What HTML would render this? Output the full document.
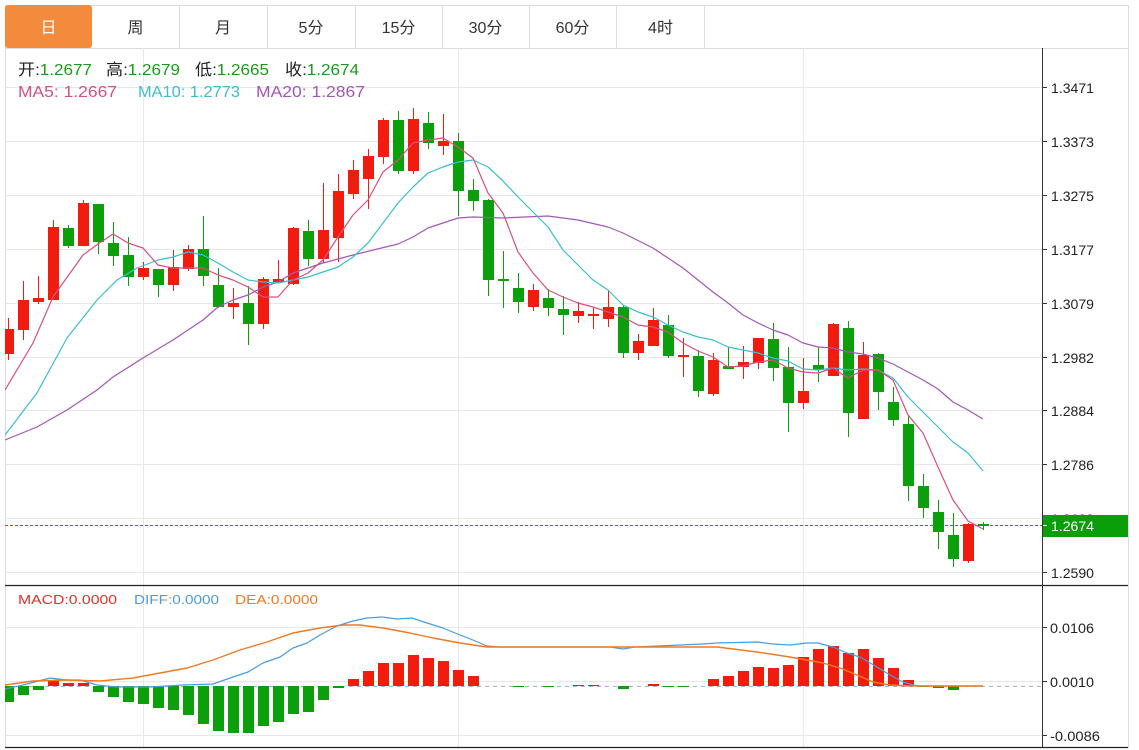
<!DOCTYPE html>
<html><head><meta charset="utf-8"><style>
html,body{margin:0;padding:0;background:#fff;}
svg{display:block;}
text{font-family:"Liberation Sans","Noto Sans CJK SC",sans-serif;}
</style></head><body>
<svg width="1139" height="750" viewBox="0 0 1139 750" xmlns="http://www.w3.org/2000/svg">
<defs>
<clipPath id="pc"><rect x="5" y="48" width="1037" height="537"/></clipPath>
<clipPath id="mc"><rect x="5" y="586" width="1037" height="162"/></clipPath>
</defs>
<rect width="1139" height="750" fill="#fff"/>
<!-- outer borders -->
<g stroke="#dcdcdc" stroke-width="1" fill="none">
<line x1="5" y1="5.5" x2="1128" y2="5.5"/>
<line x1="1128.5" y1="5" x2="1128.5" y2="748"/>
<line x1="5.5" y1="5" x2="5.5" y2="748"/>
<line x1="5" y1="48.5" x2="1128" y2="48.5"/>
<line x1="179.5" y1="5" x2="179.5" y2="48"/>
<line x1="267.5" y1="5" x2="267.5" y2="48"/>
<line x1="355.5" y1="5" x2="355.5" y2="48"/>
<line x1="442.5" y1="5" x2="442.5" y2="48"/>
<line x1="529.5" y1="5" x2="529.5" y2="48"/>
<line x1="616.5" y1="5" x2="616.5" y2="48"/>
<line x1="704.5" y1="5" x2="704.5" y2="48"/>
</g>
<rect x="5" y="5" width="87" height="43" rx="3" fill="#f28c3c"/>
<g font-size="16" text-anchor="middle" fill="#333">
<text x="48.5" y="33" fill="#fff">日</text>
<text x="135.5" y="33">周</text>
<text x="223" y="33">月</text>
<text x="311" y="33">5分</text>
<text x="398.5" y="33">15分</text>
<text x="485.5" y="33">30分</text>
<text x="572.5" y="33">60分</text>
<text x="660.5" y="33">4时</text>
</g>
<!-- grid -->
<g stroke="#e8e8e8" stroke-width="1">
<line x1="5" y1="87.5" x2="1042" y2="87.5"/>
<line x1="5" y1="141.5" x2="1042" y2="141.5"/>
<line x1="5" y1="195.5" x2="1042" y2="195.5"/>
<line x1="5" y1="249.5" x2="1042" y2="249.5"/>
<line x1="5" y1="303.5" x2="1042" y2="303.5"/>
<line x1="5" y1="357.5" x2="1042" y2="357.5"/>
<line x1="5" y1="410.5" x2="1042" y2="410.5"/>
<line x1="5" y1="464.5" x2="1042" y2="464.5"/>
<line x1="5" y1="518.5" x2="1042" y2="518.5"/>
<line x1="5" y1="572.5" x2="1042" y2="572.5"/>
<line x1="5" y1="627.5" x2="1042" y2="627.5"/>
<line x1="5" y1="681.5" x2="1042" y2="681.5"/>
<line x1="5" y1="735.5" x2="1042" y2="735.5"/>
<line x1="143.5" y1="48" x2="143.5" y2="748"/>
<line x1="458.5" y1="48" x2="458.5" y2="748"/>
<line x1="803.5" y1="48" x2="803.5" y2="748"/>
</g>
<!-- header text -->
<g font-size="16">
<text x="18" y="75" textLength="74" lengthAdjust="spacingAndGlyphs"><tspan fill="#222">开:</tspan><tspan fill="#1a9a1a">1.2677</tspan></text>
<text x="106" y="75" textLength="74" lengthAdjust="spacingAndGlyphs"><tspan fill="#222">高:</tspan><tspan fill="#1a9a1a">1.2679</tspan></text>
<text x="195" y="75" textLength="74" lengthAdjust="spacingAndGlyphs"><tspan fill="#222">低:</tspan><tspan fill="#1a9a1a">1.2665</tspan></text>
<text x="285" y="75" textLength="74" lengthAdjust="spacingAndGlyphs"><tspan fill="#222">收:</tspan><tspan fill="#1a9a1a">1.2674</tspan></text>
<text x="18" y="97" fill="#d6507f" textLength="99" lengthAdjust="spacingAndGlyphs">MA5: 1.2667</text>
<text x="138" y="97" fill="#3dbdd0" textLength="102" lengthAdjust="spacingAndGlyphs">MA10: 1.2773</text>
<text x="256" y="97" fill="#a257b5" textLength="109" lengthAdjust="spacingAndGlyphs">MA20: 1.2867</text>
</g>
<!-- current price dashed -->
<line x1="5" y1="525.5" x2="1042" y2="525.5" stroke="#1a9a1a" stroke-width="1" stroke-dasharray="3,2"/>
<!-- candles -->
<g clip-path="url(#pc)">
<g fill="#f21c0e">
<rect x="8" y="318" width="1" height="42"/><rect x="3" y="329" width="11" height="25"/>
<rect x="23" y="281" width="1" height="59"/><rect x="18" y="300" width="11" height="30"/>
<rect x="38" y="276" width="1" height="28"/><rect x="33" y="298" width="11" height="4"/>
<rect x="53" y="220" width="1" height="80"/><rect x="48" y="227" width="11" height="73"/>
<rect x="83" y="200" width="1" height="46"/><rect x="78" y="203" width="11" height="43"/>
<rect x="143" y="262" width="1" height="18"/><rect x="138" y="268" width="11" height="9"/>
<rect x="173" y="250" width="1" height="41"/><rect x="168" y="267" width="11" height="18"/>
<rect x="188" y="245" width="1" height="26"/><rect x="183" y="249" width="11" height="20"/>
<rect x="233" y="288" width="1" height="31"/><rect x="228" y="303" width="11" height="4"/>
<rect x="263" y="277" width="1" height="52"/><rect x="258" y="279" width="11" height="45"/>
<rect x="278" y="260" width="1" height="23"/><rect x="273" y="279" width="11" height="3"/>
<rect x="293" y="227" width="1" height="58"/><rect x="288" y="228" width="11" height="56"/>
<rect x="323" y="183" width="1" height="80"/><rect x="318" y="230" width="11" height="29"/>
<rect x="338" y="174" width="1" height="88"/><rect x="333" y="191" width="11" height="47"/>
<rect x="353" y="160" width="1" height="39"/><rect x="348" y="170" width="11" height="24"/>
<rect x="368" y="149" width="1" height="60"/><rect x="363" y="156" width="11" height="23"/>
<rect x="383" y="118" width="1" height="46"/><rect x="378" y="120" width="11" height="37"/>
<rect x="413" y="108" width="1" height="66"/><rect x="408" y="119" width="11" height="52"/>
<rect x="443" y="114" width="1" height="41"/><rect x="438" y="141" width="11" height="5"/>
<rect x="533" y="284" width="1" height="27"/><rect x="528" y="290" width="11" height="17"/>
<rect x="578" y="302" width="1" height="21"/><rect x="573" y="311" width="11" height="5"/>
<rect x="593" y="308" width="1" height="21"/><rect x="588" y="314" width="11" height="2"/>
<rect x="608" y="291" width="1" height="36"/><rect x="603" y="307" width="11" height="12"/>
<rect x="638" y="334" width="1" height="26"/><rect x="633" y="341" width="11" height="12"/>
<rect x="653" y="308" width="1" height="38"/><rect x="648" y="320" width="11" height="26"/>
<rect x="683" y="338" width="1" height="39"/><rect x="678" y="355" width="11" height="2"/>
<rect x="713" y="353" width="1" height="43"/><rect x="708" y="360" width="11" height="34"/>
<rect x="743" y="346" width="1" height="33"/><rect x="738" y="362" width="11" height="5"/>
<rect x="758" y="338" width="1" height="31"/><rect x="753" y="338" width="11" height="25"/>
<rect x="803" y="358" width="1" height="51"/><rect x="798" y="391" width="11" height="12"/>
<rect x="833" y="323" width="1" height="53"/><rect x="828" y="324" width="11" height="52"/>
<rect x="863" y="342" width="1" height="77"/><rect x="858" y="355" width="11" height="64"/>
<rect x="968" y="523" width="1" height="40"/><rect x="963" y="524" width="11" height="37"/>
</g>
<g fill="#0b9f0b">
<rect x="68" y="225" width="1" height="23"/><rect x="63" y="228" width="11" height="18"/>
<rect x="98" y="204" width="1" height="50"/><rect x="93" y="204" width="11" height="38"/>
<rect x="113" y="222" width="1" height="44"/><rect x="108" y="243" width="11" height="13"/>
<rect x="128" y="237" width="1" height="49"/><rect x="123" y="255" width="11" height="22"/>
<rect x="158" y="269" width="1" height="28"/><rect x="153" y="269" width="11" height="16"/>
<rect x="203" y="216" width="1" height="70"/><rect x="198" y="249" width="11" height="27"/>
<rect x="218" y="268" width="1" height="40"/><rect x="213" y="285" width="11" height="22"/>
<rect x="248" y="286" width="1" height="59"/><rect x="243" y="303" width="11" height="21"/>
<rect x="308" y="220" width="1" height="46"/><rect x="303" y="231" width="11" height="28"/>
<rect x="398" y="111" width="1" height="63"/><rect x="393" y="120" width="11" height="51"/>
<rect x="428" y="112" width="1" height="37"/><rect x="423" y="123" width="11" height="20"/>
<rect x="458" y="133" width="1" height="83"/><rect x="453" y="141" width="11" height="50"/>
<rect x="473" y="179" width="1" height="32"/><rect x="468" y="190" width="11" height="11"/>
<rect x="488" y="199" width="1" height="97"/><rect x="483" y="200" width="11" height="80"/>
<rect x="503" y="251" width="1" height="57"/><rect x="498" y="279" width="11" height="2"/>
<rect x="518" y="273" width="1" height="40"/><rect x="513" y="288" width="11" height="14"/>
<rect x="548" y="289" width="1" height="27"/><rect x="543" y="298" width="11" height="10"/>
<rect x="563" y="296" width="1" height="39"/><rect x="558" y="309" width="11" height="6"/>
<rect x="623" y="305" width="1" height="53"/><rect x="618" y="307" width="11" height="46"/>
<rect x="668" y="315" width="1" height="43"/><rect x="663" y="325" width="11" height="31"/>
<rect x="698" y="350" width="1" height="47"/><rect x="693" y="356" width="11" height="35"/>
<rect x="728" y="347" width="1" height="22"/><rect x="723" y="366" width="11" height="3"/>
<rect x="773" y="323" width="1" height="58"/><rect x="768" y="339" width="11" height="29"/>
<rect x="788" y="347" width="1" height="85"/><rect x="783" y="367" width="11" height="36"/>
<rect x="818" y="347" width="1" height="35"/><rect x="813" y="365" width="11" height="5"/>
<rect x="848" y="321" width="1" height="116"/><rect x="843" y="328" width="11" height="85"/>
<rect x="878" y="353" width="1" height="57"/><rect x="873" y="354" width="11" height="38"/>
<rect x="893" y="387" width="1" height="39"/><rect x="888" y="402" width="11" height="18"/>
<rect x="908" y="416" width="1" height="85"/><rect x="903" y="424" width="11" height="62"/>
<rect x="923" y="474" width="1" height="44"/><rect x="918" y="486" width="11" height="22"/>
<rect x="938" y="500" width="1" height="49"/><rect x="933" y="512" width="11" height="20"/>
<rect x="953" y="513" width="1" height="54"/><rect x="948" y="535" width="11" height="24"/>
<rect x="983" y="522" width="1" height="8"/><rect x="978" y="524" width="11" height="2"/>
</g>
<!-- MA lines -->
<g fill="none" stroke-width="1.2" stroke-linejoin="round">
<polyline stroke="#a257b5" points="5,440 37,427 67,410 97,390 113,377 143,358 173,340 188,330 203,320 218,307 233,300 248,295 263,287 278,282 293,273 323,263 353,255 398,244 413,237 428,228 443,223 458,218 473,217 503,218 548,216 578,220 608,227 623,233 653,248 668,258 683,268 698,280 713,292 728,303 743,315 758,323 773,330 788,335 803,343 818,347 833,348 848,352 863,354 878,358 893,364 908,372 923,380 938,389 953,402 968,410 983,419"/>
<polyline stroke="#3dbdd0" points="5,435 37,393 67,338 97,300 117,280 137,268 158,260 173,257 188,252 203,255 218,263 233,272 248,280 263,282 278,283 293,280 308,277 338,267 353,257 368,243 383,223 398,203 413,187 428,173 443,167 458,162 473,160 488,167 502,180 518,197 533,212 548,227 563,250 578,265 593,280 608,290 623,305 638,312 653,317 668,325 683,332 698,337 713,340 728,347 743,350 758,353 773,358 788,361 803,369 818,370 833,368 848,370 863,369 878,370 893,378 908,397 923,412 938,427 953,442 968,453 983,471"/>
<polyline stroke="#d6507f" points="5,390 33,343 53,297 68,276 83,255 98,244 113,234 128,243 143,248 158,265 173,268 188,268 203,268 218,275 233,280 248,287 263,297 278,297 293,280 308,273 323,260 338,237 353,215 368,200 383,172 398,160 413,143 428,140 443,138 458,147 473,158 488,193 503,213 518,252 533,273 548,290 563,297 578,303 593,307 608,312 623,317 638,325 653,327 668,332 683,343 698,351 713,357 728,367 743,366 758,362 773,360 788,368 803,372 818,373 833,368 848,378 863,370 878,370 893,380 908,415 923,433 938,467 953,500 968,521 983,529"/>
</g>
</g>
<!-- MACD -->
<line x1="5" y1="686.5" x2="1042" y2="686.5" stroke="#a8b4c0" stroke-width="1" stroke-dasharray="4,4"/>
<g clip-path="url(#mc)">
<g fill="#0b9f0b">
<rect x="3" y="686" width="11" height="16"/>
<rect x="18" y="686" width="11" height="9"/>
<rect x="33" y="686" width="11" height="4"/>
<rect x="93" y="686" width="11" height="6"/>
<rect x="108" y="686" width="11" height="11"/>
<rect x="123" y="686" width="11" height="16"/>
<rect x="138" y="686" width="11" height="18"/>
<rect x="153" y="686" width="11" height="22"/>
<rect x="168" y="686" width="11" height="24"/>
<rect x="183" y="686" width="11" height="29"/>
<rect x="198" y="686" width="11" height="38"/>
<rect x="213" y="686" width="11" height="45"/>
<rect x="228" y="686" width="11" height="47"/>
<rect x="243" y="686" width="11" height="47"/>
<rect x="258" y="686" width="11" height="40"/>
<rect x="273" y="686" width="11" height="36"/>
<rect x="288" y="686" width="11" height="28"/>
<rect x="303" y="686" width="11" height="26"/>
<rect x="318" y="686" width="11" height="14"/>
<rect x="333" y="686" width="11" height="2"/>
<rect x="513" y="686" width="11" height="1"/>
<rect x="543" y="686" width="11" height="1"/>
<rect x="618" y="686" width="11" height="3"/>
<rect x="663" y="686" width="11" height="1"/>
<rect x="678" y="686" width="11" height="1"/>
<rect x="918" y="686" width="11" height="1"/>
<rect x="933" y="686" width="11" height="2"/>
<rect x="948" y="686" width="11" height="4"/>
</g>
<g fill="#f21c0e">
<rect x="48" y="681" width="11" height="5"/>
<rect x="63" y="683" width="11" height="3"/>
<rect x="78" y="683" width="11" height="3"/>
<rect x="348" y="679" width="11" height="7"/>
<rect x="363" y="671" width="11" height="15"/>
<rect x="378" y="663" width="11" height="23"/>
<rect x="393" y="663" width="11" height="23"/>
<rect x="408" y="655" width="11" height="31"/>
<rect x="423" y="658" width="11" height="28"/>
<rect x="438" y="661" width="11" height="25"/>
<rect x="453" y="670" width="11" height="16"/>
<rect x="468" y="676" width="11" height="10"/>
<rect x="573" y="685" width="11" height="1"/>
<rect x="588" y="685" width="11" height="1"/>
<rect x="648" y="684" width="11" height="2"/>
<rect x="708" y="679" width="11" height="7"/>
<rect x="723" y="676" width="11" height="10"/>
<rect x="738" y="671" width="11" height="15"/>
<rect x="753" y="667" width="11" height="19"/>
<rect x="768" y="668" width="11" height="18"/>
<rect x="783" y="665" width="11" height="21"/>
<rect x="798" y="657" width="11" height="29"/>
<rect x="813" y="649" width="11" height="37"/>
<rect x="828" y="646" width="11" height="40"/>
<rect x="843" y="653" width="11" height="33"/>
<rect x="858" y="649" width="11" height="37"/>
<rect x="873" y="658" width="11" height="28"/>
<rect x="888" y="668" width="11" height="18"/>
<rect x="903" y="680" width="11" height="6"/>
</g>
<g fill="none" stroke-width="1.2" stroke-linejoin="round">
<polyline stroke="#4a9de0" points="5,689 23,685 50,678 67,680 80,680 97,685 117,687 150,687 183,685 213,684 233,677 248,672 263,663 280,657 293,648 307,643 320,635 337,626 353,621 367,618 382,617 397,619 412,618 427,623 443,628 460,635 473,640 487,646 500,647 610,647 623,649 635,647 703,644 717,643 757,642 773,644 790,645 807,643 818,643 833,647 847,653 860,657 877,667 890,675 903,682 917,686 983,686"/>
<polyline stroke="#f07a22" stroke-width="1.4" points="5,685 33,681 67,680 100,681 133,678 160,673 187,668 213,660 240,650 267,642 293,633 320,628 343,625 360,625 383,628 410,633 433,638 460,643 487,647 500,647 703,647 717,647 757,652 790,657 823,663 840,668 857,675 873,682 890,685 910,686 983,686"/>
</g>
</g>
<g font-size="13">
<text x="18" y="604" fill="#e0302a" textLength="99" lengthAdjust="spacingAndGlyphs">MACD:0.0000</text>
<text x="134" y="604" fill="#4a9de0" textLength="85" lengthAdjust="spacingAndGlyphs">DIFF:0.0000</text>
<text x="235" y="604" fill="#f07a22" textLength="83" lengthAdjust="spacingAndGlyphs">DEA:0.0000</text>
</g>
<!-- axes lines -->
<line x1="1042.5" y1="48" x2="1042.5" y2="748" stroke="#333" stroke-width="1"/>
<line x1="5" y1="585.5" x2="1128" y2="585.5" stroke="#222" stroke-width="1.2"/>
<line x1="5" y1="747.5" x2="1128" y2="747.5" stroke="#222" stroke-width="1.2"/>
<g stroke="#333" stroke-width="1">
<line x1="1042" y1="87.5" x2="1047" y2="87.5"/>
<line x1="1042" y1="141.5" x2="1047" y2="141.5"/>
<line x1="1042" y1="195.5" x2="1047" y2="195.5"/>
<line x1="1042" y1="249.5" x2="1047" y2="249.5"/>
<line x1="1042" y1="303.5" x2="1047" y2="303.5"/>
<line x1="1042" y1="357.5" x2="1047" y2="357.5"/>
<line x1="1042" y1="410.5" x2="1047" y2="410.5"/>
<line x1="1042" y1="464.5" x2="1047" y2="464.5"/>
<line x1="1042" y1="518.5" x2="1047" y2="518.5"/>
<line x1="1042" y1="572.5" x2="1047" y2="572.5"/>
<line x1="1042" y1="627.5" x2="1047" y2="627.5"/>
<line x1="1042" y1="681.5" x2="1047" y2="681.5"/>
<line x1="1042" y1="735.5" x2="1047" y2="735.5"/>
</g>
<g font-size="14" fill="#222">
<text x="1051" y="93" textLength="43" lengthAdjust="spacingAndGlyphs">1.3471</text>
<text x="1051" y="147" textLength="43" lengthAdjust="spacingAndGlyphs">1.3373</text>
<text x="1051" y="201" textLength="43" lengthAdjust="spacingAndGlyphs">1.3275</text>
<text x="1051" y="255" textLength="43" lengthAdjust="spacingAndGlyphs">1.3177</text>
<text x="1051" y="309" textLength="43" lengthAdjust="spacingAndGlyphs">1.3079</text>
<text x="1051" y="363" textLength="43" lengthAdjust="spacingAndGlyphs">1.2982</text>
<text x="1051" y="416" textLength="43" lengthAdjust="spacingAndGlyphs">1.2884</text>
<text x="1051" y="470" textLength="43" lengthAdjust="spacingAndGlyphs">1.2786</text>
<text x="1051" y="524" textLength="43" lengthAdjust="spacingAndGlyphs">1.2688</text>
<text x="1051" y="578" textLength="43" lengthAdjust="spacingAndGlyphs">1.2590</text>
<text x="1050" y="633" textLength="44" lengthAdjust="spacingAndGlyphs">0.0106</text>
<text x="1050" y="687" textLength="44" lengthAdjust="spacingAndGlyphs">0.0010</text>
<text x="1050" y="741" textLength="50" lengthAdjust="spacingAndGlyphs">-0.0086</text>
</g>
<rect x="1043" y="515" width="85" height="22" fill="#0a9f0a"/>
<line x1="1043" y1="525.5" x2="1047" y2="525.5" stroke="#fff" stroke-width="1"/>
<text x="1051" y="531" font-size="14" fill="#fff" textLength="43" lengthAdjust="spacingAndGlyphs">1.2674</text>
</svg>
</body></html>
